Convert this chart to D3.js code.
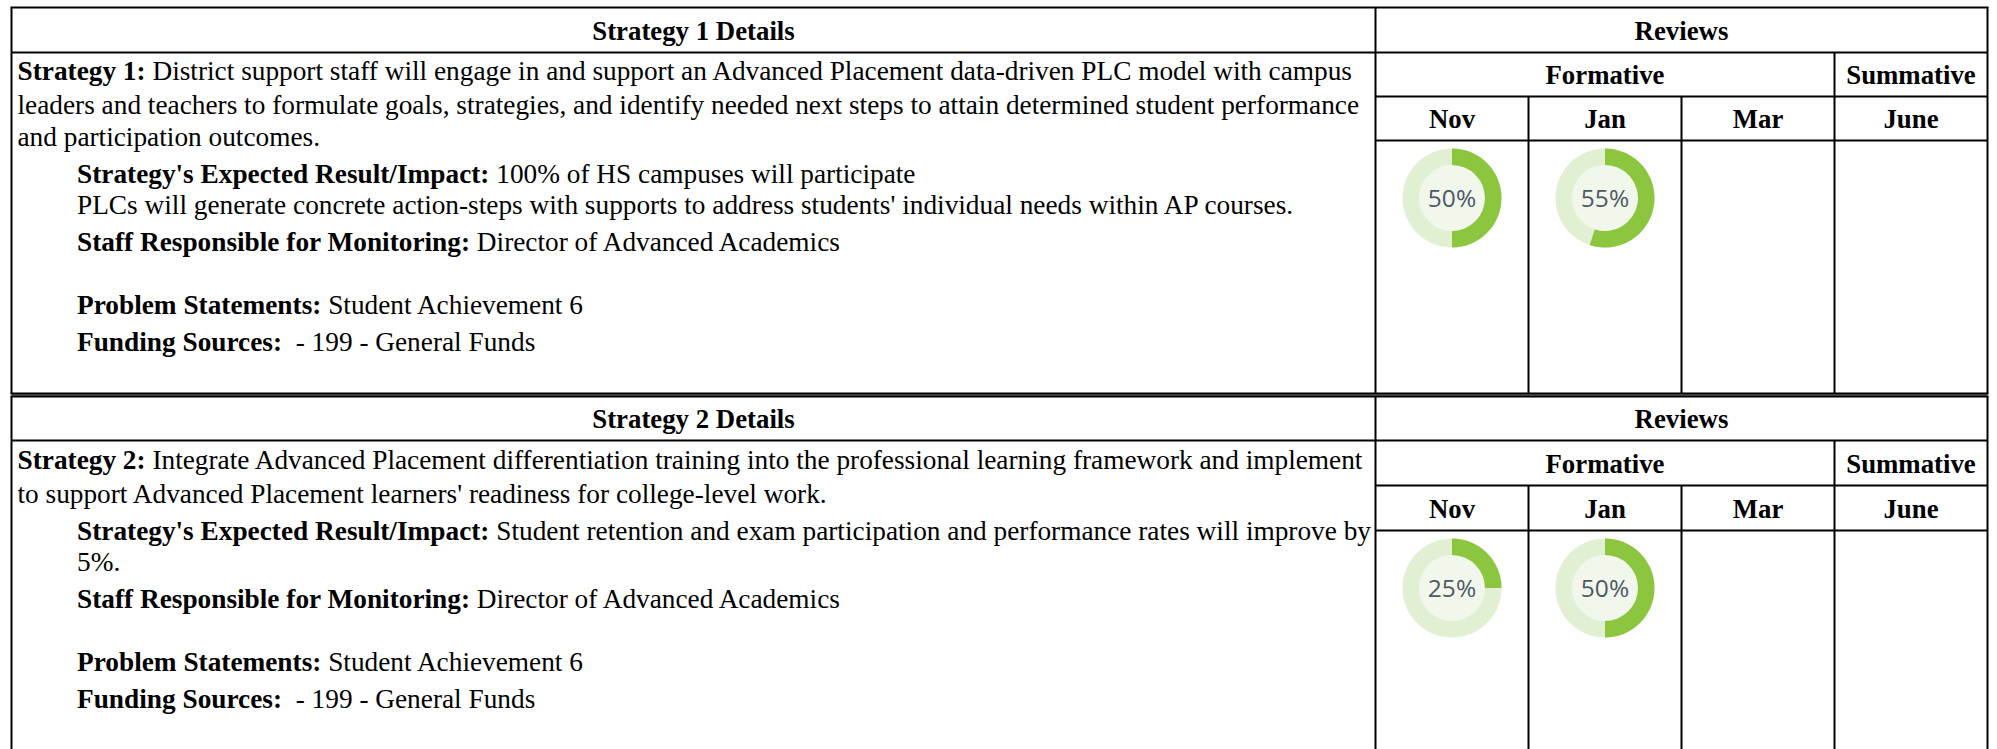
<!DOCTYPE html>
<html><head><meta charset="utf-8">
<script src="https://cdn.jsdelivr.net/npm/d3@7"></script>
<style>body{margin:0;background:#fff}svg{display:block}</style>
</head><body>
<svg id="chart" width="1997" height="749"></svg>
<script>
// ---------- DATA ----------
const months = ["Nov", "Jan", "Mar", "June"];
const reviewGroups = ["Formative", "Summative"];
const reviewGroupSpans = [3, 1];
const reviewsTitle = "Reviews";
const strategyTitles = ["Strategy 1 Details", "Strategy 2 Details"];
const strategy1Progress = [50, 55, null, null];
const strategy2Progress = [25, 50, null, null];
const strategy1Lines = [
  {level: 0, parts: [["b", "Strategy 1:"], ["r", " District support staff will engage in and support an Advanced Placement data-driven PLC model with campus"]]},
  {level: 0, parts: [["r", "leaders and teachers to formulate goals, strategies, and identify needed next steps to attain determined student performance"]]},
  {level: 0, parts: [["r", "and participation outcomes."]]},
  {level: 1, parts: [["b", "Strategy's Expected Result/Impact:"], ["r", " 100% of HS campuses will participate"]]},
  {level: 1, parts: [["r", "PLCs will generate concrete action-steps with supports to address students' individual needs within AP courses."]]},
  {level: 1, parts: [["b", "Staff Responsible for Monitoring:"], ["r", " Director of Advanced Academics"]]},
  {level: 1, parts: [["b", "Problem Statements:"], ["r", " Student Achievement 6"]]},
  {level: 1, parts: [["b", "Funding Sources:"], ["r", "  - 199 - General Funds"]]}
];
const strategy2Lines = [
  {level: 0, parts: [["b", "Strategy 2:"], ["r", " Integrate Advanced Placement differentiation training into the professional learning framework and implement"]]},
  {level: 0, parts: [["r", "to support Advanced Placement learners' readiness for college-level work."]]},
  {level: 1, parts: [["b", "Strategy's Expected Result/Impact:"], ["r", " Student retention and exam participation and performance rates will improve by"]]},
  {level: 1, parts: [["r", "5%."]]},
  {level: 1, parts: [["b", "Staff Responsible for Monitoring:"], ["r", " Director of Advanced Academics"]]},
  {level: 1, parts: [["b", "Problem Statements:"], ["r", " Student Achievement 6"]]},
  {level: 1, parts: [["b", "Funding Sources:"], ["r", "  - 199 - General Funds"]]}
];

// ---------- LAYOUT ----------
const svg = d3.select("#chart");
const X0 = 11.5, XD = 1375.5, X1 = 1987.5;
const serif = "'Liberation Serif', 'Times New Roman', serif";
const bodySize = 27.3, headSize = 26.8;
const blocks = [
  {top: 7.5, header: 52.5, form: 96.5, month: 140.5, bottom: 393.5,
   baselines: [80, 114, 146, 183, 214, 251, 314, 351],
   lines: strategy1Lines, progress: strategy1Progress, title: strategyTitles[0]},
  {top: 396.5, header: 440.5, form: 485.5, month: 530.5, bottom: 760,
   baselines: [469, 503, 540, 571, 608, 671, 708],
   lines: strategy2Lines, progress: strategy2Progress, title: strategyTitles[1]}
];

const x = d3.scaleBand().domain(months).range([XD, X1]);
const angle = d3.scaleLinear().domain([0, 100]).range([0, 2 * Math.PI]);
const rOuter = 49.5, rInner = 33;
const arc = d3.arc().innerRadius(rInner).outerRadius(rOuter);

// double separator between the two tables
svg.append("rect").attr("x", X0).attr("y", 393.5).attr("width", X1 - X0).attr("height", 3).attr("fill", "#777");

const gridG = svg.append("g").attr("stroke", "#000").attr("stroke-width", 2).attr("fill", "none");
function hline(y, xa, xb, w) { gridG.append("line").attr("x1", xa).attr("x2", xb).attr("y1", y).attr("y2", y).attr("stroke-width", w || 2); }
function vline(xp, ya, yb) { gridG.append("line").attr("x1", xp).attr("x2", xp).attr("y1", ya).attr("y2", yb); }

function headerText(txt, cx, rowTop, rowBottom) {
  svg.append("text").attr("x", cx).attr("y", (rowTop + rowBottom) / 2 + 9.5)
    .attr("text-anchor", "middle").attr("font-family", serif).attr("font-size", headSize)
    .attr("font-weight", "bold").attr("fill", "#000").text(txt);
}

blocks.forEach(b => {
  const groupEdges = [];
  let acc = 0;
  reviewGroupSpans.forEach(s => { groupEdges.push([x(months[acc]), x(months[acc + s - 1]) + x.bandwidth()]); acc += s; });

  // grid lines
  hline(b.top, X0 - 1, X1 + 1, 2);
  hline(b.header, X0, X1);
  hline(b.form, XD, X1);
  hline(b.month, XD, X1);
  if (b.bottom < 749) hline(b.bottom, X0 - 1, X1 + 1, 2);
  vline(X0, b.top, b.bottom);
  vline(XD, b.top, b.bottom);
  vline(X1, b.top, b.bottom);
  groupEdges.slice(1).forEach(e => vline(e[0], b.header, b.bottom));
  months.slice(1).forEach(m => {
    if (!groupEdges.some(e => Math.abs(e[0] - x(m)) < 0.1)) vline(x(m), b.form, b.bottom);
  });

  // headers
  headerText(b.title, (X0 + XD) / 2, b.top, b.header);
  headerText(reviewsTitle, (XD + X1) / 2, b.top, b.header);
  reviewGroups.forEach((g, i) => headerText(g, (groupEdges[i][0] + groupEdges[i][1]) / 2, b.header, b.form));
  months.forEach(m => headerText(m, x(m) + x.bandwidth() / 2, b.form, b.month));

  // detail text
  b.lines.forEach((ln, i) => {
    const t = svg.append("text").attr("x", ln.level ? 77 : 17.5).attr("y", b.baselines[i])
      .attr("font-family", serif).attr("font-size", bodySize).attr("fill", "#000")
      .style("white-space", "pre");
    ln.parts.forEach(p => t.append("tspan").attr("font-weight", p[0] === "b" ? "bold" : "normal").text(p[1]));
  });

  // donuts
  const cy = b.month + 57.5;
  b.progress.forEach((v, i) => {
    if (v == null) return;
    const cx = x(months[i]) + x.bandwidth() / 2;
    const g = svg.append("g").attr("transform", `translate(${cx},${cy})`);
    g.append("circle").attr("r", rInner).attr("fill", "#f1f8eb");
    g.append("path").attr("d", arc({startAngle: 0, endAngle: 2 * Math.PI})).attr("fill", "#e1efd3");
    g.append("path").attr("d", arc({startAngle: 0, endAngle: angle(v)})).attr("fill", "#8cc63f");
    g.append("text").attr("text-anchor", "middle").attr("dy", "0.36em")
      .attr("font-family", "'Open Sans', sans-serif").attr("font-size", 24.5).attr("fill", "#4f5966")
      .text(v + "%");
  });
});
</script>
</body></html>
